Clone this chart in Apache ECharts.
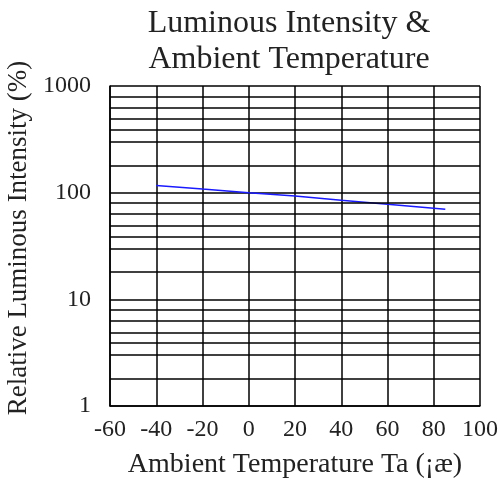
<!DOCTYPE html>
<html><head><meta charset="utf-8">
<script src="https://cdn.jsdelivr.net/npm/echarts@6/dist/echarts.min.js"></script>
<style>html,body{margin:0;padding:0;background:#fff}#c{width:500px;height:483px}</style>
</head><body><div id="c"></div>
<script>
var temperatures = [-40, -20, 0, 20, 40, 60, 85];
var intensity = [117, 108, 100, 93, 85, 78, 70];
var xTicks = [-60, -40, -20, 0, 20, 40, 60, 80, 100];
var yTicks = [1, 10, 100, 1000];
var minorGridFactors = [1.8, 3, 3.9, 4.9, 6.3, 8];
var decades = [1, 10, 100];

var minorLines = [];
decades.forEach(function(d){ minorGridFactors.forEach(function(f){ minorLines.push({yAxis: +(d*f).toPrecision(3)}); }); });

var font = '"Liberation Serif", "DejaVu Serif", serif';
var chart = echarts.init(document.getElementById('c'));
chart.setOption({
  backgroundColor: '#fff',
  animation: false,
  title: {
    text: 'Luminous Intensity &\nAmbient Temperature',
    left: 284, top: 1, textAlign: 'center',
    textStyle: {fontFamily: font, fontWeight: 'normal', fontSize: 32, lineHeight: 36, color: '#222'}
  },
  grid: {left: 110, right: 20, top: 86, bottom: 77, containLabel: false, outerBoundsMode: 'none'},
  xAxis: {
    type: 'value', min: -60, max: 100, interval: 20,
    name: 'Ambient Temperature Ta (¡æ)', nameLocation: 'middle', nameGap: 45,
    nameTextStyle: {fontFamily: font, fontSize: 28, color: '#222'},
    axisLine: {show: true, onZero: false, lineStyle: {color: '#000', width: 1.5}},
    axisTick: {show: false},
    axisLabel: {fontFamily: font, fontSize: 24, color: '#222', margin: 12,
      formatter: function(v){ return xTicks.indexOf(v) >= 0 ? String(v) : ''; }},
    splitLine: {show: true, lineStyle: {color: '#000', width: 1.5}}
  },
  yAxis: {
    type: 'log', logBase: 10, min: yTicks[0], max: yTicks[yTicks.length-1],
    name: 'Relative Luminous Intensity (%)', nameLocation: 'middle', nameGap: 72,
    nameTextStyle: {fontFamily: font, fontSize: 27, color: '#222', padding: [0, 0, 0, 16]},
    axisLine: {show: true, onZero: false, lineStyle: {color: '#000', width: 1.5}},
    axisTick: {show: false},
    axisLabel: {fontFamily: font, fontSize: 24, color: '#222', margin: 19,
      formatter: function(v){ return String(Math.round(v)); }},
    splitLine: {show: true, lineStyle: {color: '#000', width: 1.5}}
  },
  series: [{
    type: 'line',
    data: temperatures.map(function(t, i){ return [t, intensity[i]]; }),
    symbol: 'none',
    lineStyle: {color: '#1a1aff', width: 1.5},
    markLine: {
      silent: true, symbol: 'none', animation: false,
      label: {show: false},
      lineStyle: {color: '#000', width: 1.5, type: 'solid'},
      data: minorLines
    }
  }]
});
</script></body></html>
